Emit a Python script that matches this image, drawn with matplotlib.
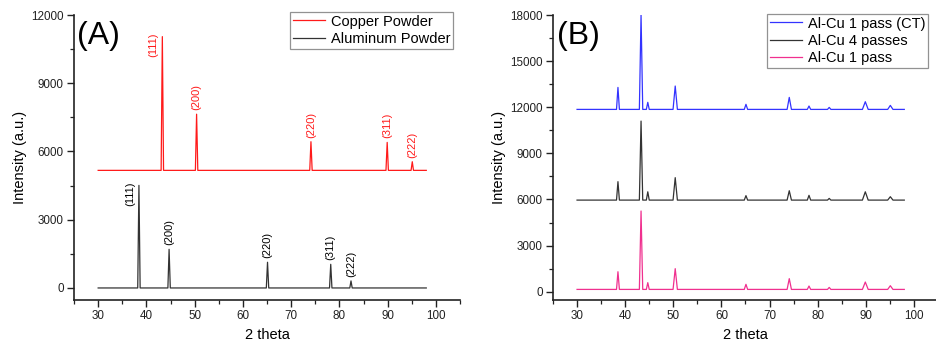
import matplotlib
matplotlib.use('Agg')
import matplotlib.pyplot as plt
from matplotlib.ticker import MultipleLocator

plt.rcParams['font.family'] = ['Liberation Sans', 'DejaVu Sans']

# ---- data ----
hkl = ['(111)', '(200)', '(220)', '(311)', '(222)']

# panel A: copper powder
cu_theta = [43.3, 50.4, 74.1, 89.9, 95.1]
cu_peaks = [11050, 7640, 6430, 6400, 5550]
cu_base = 5170

# panel A: aluminum powder
al_theta = [38.45, 44.7, 65.1, 78.2, 82.4]
al_peaks = [4510, 1700, 1130, 1040, 310]
al_base = 0

# panel B: Al-Cu samples
alcu_theta = [38.5, 43.3, 44.7, 50.4, 65.1, 74.1, 78.2, 82.4, 89.9, 95.1]
alcu_width = [0.3, 0.35, 0.3, 0.45, 0.35, 0.45, 0.35, 0.35, 0.6, 0.55]
ct_peaks = [13290, 18000, 12320, 13380, 12190, 12640, 12080, 11990, 12360, 12120]
ct_base = 11860
pass4_peaks = [7160, 11100, 6500, 7420, 6250, 6570, 6270, 6070, 6500, 6180]
pass4_base = 5960
pass1_peaks = [1300, 5250, 590, 1500, 480, 850, 370, 280, 630, 390]
pass1_base = 150

scan_start = 30
scan_end = 98

red = '#ff1a1a'
dark = '#333333'
blue = '#3333ff'
pink = '#f0308f'


def pattern(theta, peaks, base, widths):
    # baseline with a sharp peak at each reflection
    xs = [scan_start]
    ys = [base]
    for p, h, w in zip(theta, peaks, widths):
        xs += [p - w, p, p + w]
        ys += [base, h, base]
    xs.append(scan_end)
    ys.append(base)
    return xs, ys


def style_axes(ax, ymax, ymin):
    ax.set_xlim(25, 105)
    ax.set_ylim(ymin, ymax)
    ax.xaxis.set_major_locator(MultipleLocator(10))
    ax.xaxis.set_minor_locator(MultipleLocator(5))
    ax.yaxis.set_major_locator(MultipleLocator(3000))
    ax.yaxis.set_minor_locator(MultipleLocator(1500))
    ax.spines['top'].set_visible(False)
    ax.spines['right'].set_visible(False)
    for s in ['left', 'bottom']:
        ax.spines[s].set_linewidth(1.2)
        ax.spines[s].set_color('#222222')
    ax.tick_params(which='major', direction='out', length=5, width=1.0,
                   labelsize=8.4, pad=2.5, colors='#222222')
    ax.tick_params(which='minor', direction='out', length=3, width=0.9,
                   colors='#222222')
    ax.set_xlabel('2 theta', fontsize=10.5, labelpad=4)
    ax.set_ylabel('Intensity (a.u.)', fontsize=10.5, labelpad=3)


def style_legend(ax, anchor):
    leg = ax.legend(loc='upper right', bbox_to_anchor=anchor,
                    fontsize=10.5, frameon=True, fancybox=False, borderpad=0.2,
                    labelspacing=0.22, handlelength=2.2, handletextpad=0.4,
                    borderaxespad=0)
    leg.get_frame().set_edgecolor('#777777')
    leg.get_frame().set_linewidth(0.9)


fig = plt.figure(figsize=(9.36, 3.46), dpi=100)
ax1 = fig.add_axes([0.0791, 0.1329, 0.4124, 0.8237])
ax2 = fig.add_axes([0.5908, 0.1329, 0.4113, 0.8237])

# ---- panel A ----
x, y = pattern(cu_theta, cu_peaks, cu_base, [0.25] * 5)
ax1.plot(x, y, color=red, lw=0.9, label='Copper Powder')
x, y = pattern(al_theta, al_peaks, al_base, [0.25] * 5)
ax1.plot(x, y, color=dark, lw=0.9, label='Aluminum Powder')

for i, lab in enumerate(hkl):
    for theta, peaks, col in [(cu_theta, cu_peaks, red), (al_theta, al_peaks, 'black')]:
        if i == 0:
            ax1.text(theta[i] - 1.9, peaks[i] - 350, lab, rotation=90,
                     ha='center', va='center', fontsize=8, color=col)
        else:
            ax1.text(theta[i], peaks[i] + 180, lab, rotation=90,
                     ha='center', va='bottom', fontsize=8, color=col)

style_axes(ax1, 12000, -530)
ax1.text(0.008, 0.926, '(A)', transform=ax1.transAxes, fontsize=23,
         ha='left', va='center')
style_legend(ax1, (0.982, 1.012))

# ---- panel B ----
x, y = pattern(alcu_theta, ct_peaks, ct_base, alcu_width)
ax2.plot(x, y, color=blue, lw=0.9, label='Al-Cu 1 pass (CT)')
x, y = pattern(alcu_theta, pass4_peaks, pass4_base, alcu_width)
ax2.plot(x, y, color=dark, lw=0.9, label='Al-Cu 4 passes')
x, y = pattern(alcu_theta, pass1_peaks, pass1_base, alcu_width)
ax2.plot(x, y, color=pink, lw=0.9, label='Al-Cu 1 pass')

style_axes(ax2, 18000, -540)
ax2.text(0.01, 0.926, '(B)', transform=ax2.transAxes, fontsize=23,
         ha='left', va='center')
style_legend(ax2, (0.974, 1.005))

fig.savefig('out.png', dpi=100)
